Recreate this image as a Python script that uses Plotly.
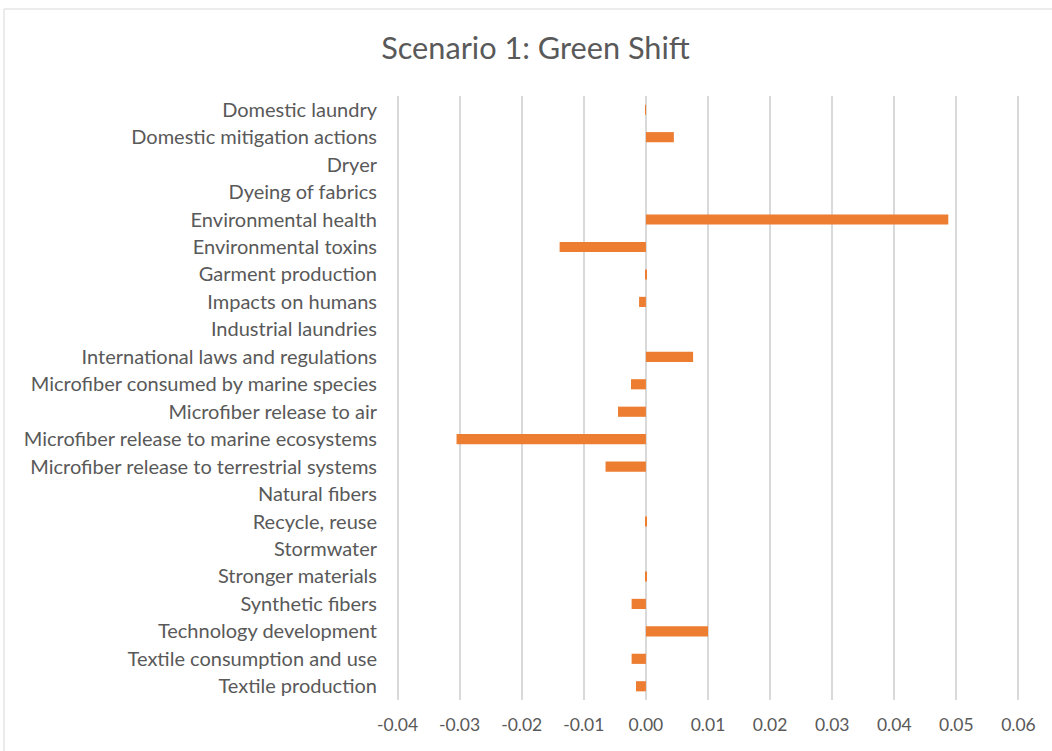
import plotly.graph_objects as go

categories = [
    "Domestic laundry",
    "Domestic mitigation actions",
    "Dryer",
    "Dyeing of fabrics",
    "Environmental health",
    "Environmental toxins",
    "Garment production",
    "Impacts on humans",
    "Industrial laundries",
    "International laws and regulations",
    "Microfiber consumed by marine species",
    "Microfiber release to air",
    "Microfiber release to marine ecosystems",
    "Microfiber release to terrestrial systems",
    "Natural fibers",
    "Recycle, reuse",
    "Stormwater",
    "Stronger materials",
    "Synthetic fibers",
    "Technology development",
    "Textile consumption and use",
    "Textile production",
]
values = [
    -0.0001, 0.0045, 0.0, 0.0, 0.0487, -0.0139, 0.0001, -0.0011, 0.0,
    0.0076, -0.0024, -0.0045, -0.0305, -0.0065, 0.0, 0.0001, 0.0, 0.0001,
    -0.0023, 0.0100, -0.0023, -0.0016,
]
tick_vals = [-0.04, -0.03, -0.02, -0.01, 0.0, 0.01, 0.02, 0.03, 0.04, 0.05, 0.06]
tick_text = ["-0.04", "-0.03", "-0.02", "-0.01", "0.00", "0.01", "0.02", "0.03", "0.04", "0.05", "0.06"]

W, H = 1052, 751
PAD = 1.55  # extra px on each side so edge gridlines are drawn
L, R, T, B = 398 - PAD, 34 - PAD, 96, 51
pw = W - L - R
ph = H - T - B
FONT = "Lato"

fig = go.Figure()
fig.add_trace(go.Bar(
    y=categories, x=values, orientation="h",
    marker=dict(color="#ED7D31", line=dict(width=0)),
    width=0.37,
))

fig.update_layout(
    width=W, height=H,
    margin=dict(l=L, r=R, t=T, b=B, pad=0),
    paper_bgcolor="white", plot_bgcolor="white",
    font=dict(family=FONT, color="#595959", size=16),
    title=dict(text="Scenario 1: Green Shift", x=535.5 / W, xanchor="center",
               xref="container", y=1 - 48 / H, yanchor="middle",
               font=dict(size=30.7, color="#595959", family=FONT)),
    showlegend=False,
    bargap=0.63,
)
fig.update_xaxes(
    range=[-0.04025, 0.06025], tickvals=tick_vals, ticktext=tick_text,
    showgrid=True, gridcolor="#D9D9D9", gridwidth=1.5,
    zeroline=True, zerolinecolor="#D9D9D9", zerolinewidth=1.5,
    showline=False, ticks="", tickfont=dict(size=17.5, color="#595959"),
    ticklabelstandoff=12,
)
fig.update_yaxes(
    autorange="reversed", showgrid=False, zeroline=False, showline=False,
    ticks="", tickfont=dict(size=20, color="#595959"), ticklabelstandoff=18,
)
# chart frame
fig.add_shape(type="rect", xref="paper", yref="paper",
              x0=(5 - L) / pw, x1=(W + 5 - L) / pw,
              y0=(H - B - (H + 5)) / ph, y1=(H - B - 9) / ph,
              line=dict(color="#D9D9D9", width=1), fillcolor="rgba(0,0,0,0)",
              layer="below")

fig.write_html("out.html", config={"displayModeBar": False},
               post_script="document.body.style.margin='0';")
